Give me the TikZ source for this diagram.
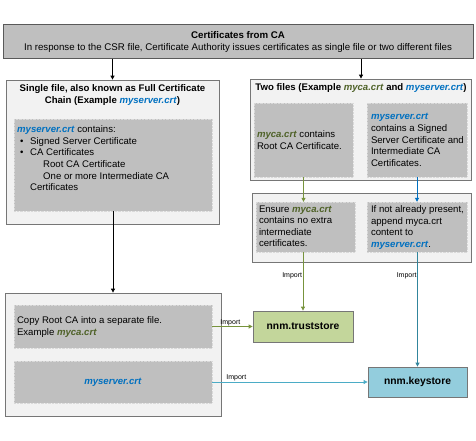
\documentclass[tikz,border=0pt]{standalone}
\usepackage{fontspec}
\setmainfont{Liberation Sans}
\usetikzlibrary{arrows.meta,calc}
\definecolor{boxgray}{HTML}{BFBFBF}
\definecolor{panel}{HTML}{F2F2F2}
\definecolor{edge}{HTML}{767676}
\definecolor{dedge}{HTML}{595959}
\definecolor{dgreen}{HTML}{4F6228}
\definecolor{lgreen}{HTML}{77933C}
\definecolor{fblue}{HTML}{0070C0}
\definecolor{kteal}{HTML}{31859C}
\definecolor{hteal}{HTML}{4BACC6}
\definecolor{tsfill}{HTML}{C3D69B}
\definecolor{ksfill}{HTML}{93CDDD}
\newcommand\gcrt[1]{\textcolor{dgreen}{\textbf{\textit{#1}}}}
\newcommand\bcrt[1]{\textcolor{fblue}{\textbf{\textit{#1}}}}
\begin{document}
\begin{tikzpicture}[x=1pt,y=-1pt,
  sz/.style 2 args={minimum width=#1pt,minimum height=#2pt},
  panelbox/.style={draw=edge,fill=panel,line width=0.8pt,inner sep=0pt},
  innerbox/.style={draw=white!85!black,densely dotted,fill=boxgray,line width=0.4pt,inner sep=0pt},
  storebox/.style={draw=edge,line width=0.8pt,inner sep=0pt,font=\fontsize{10.3}{12}\selectfont\bfseries},
  body/.style={font=\fontsize{9.6}{11.6}\selectfont,align=left,inner sep=0pt},
  ttl/.style={font=\fontsize{9.6}{12}\selectfont\bfseries,align=center,inner sep=0pt},
  imp/.style={font=\fontsize{7}{8}\selectfont,inner sep=0.5pt},
  tip/.style={-{Triangle[length=4pt,width=4pt]}},
  blk/.style={tip,draw=black,line width=0.8pt}]
\useasboundingbox (0,0) rectangle (476,440);
% top
\node[panelbox,fill=boxgray,draw=dedge,sz={470}{34},font=\fontsize{9.7}{12}\selectfont,align=center] (top) at (238,41.5)
  {{\bfseries Certificates from CA}\\In response to the CSR file, Certificate Authority issues certificates as single file or two different files};
% left column
\node[panelbox,sz={213}{144}] (lt) at (112.5,152) {};
\node[ttl] (lttl) at (112.5,95.5) {Single file, also known as Full Certificate\\Chain (Example \bcrt{myserver.crt})};
\node[innerbox,sz={198}{92}] (lin) at (113,165) {};
\node[body,anchor=north west] (lintxt) at (17,125.5) {\bcrt{myserver.crt} contains:\\
  \makebox[13pt][l]{\hspace{3pt}\textbullet}Signed Server Certificate\\
  \makebox[13pt][l]{\hspace{3pt}\textbullet}CA Certificates\\
  \hspace*{26pt}Root CA Certificate\\
  \hspace*{26pt}One or more Intermediate CA\\
  \hspace*{13pt}Certificates};
\node[panelbox,sz={216}{123}] (bot) at (113,354.5) {};
\node[innerbox,sz={198}{43}] (cp) at (113,326.5) {};
\node[body,anchor=west] (cptxt) at ($(cp.west)+(3,0.5)$) {Copy Root CA into a separate file.\\Example \gcrt{myca.crt}};
\node[innerbox,sz={198}{42},font=\fontsize{9.6}{11}\selectfont] (ms) at (113,382) {\bcrt{myserver.crt}};
% right column
\node[panelbox,sz={221}{101}] (rt) at (360.5,129.5) {};
\node[ttl] (rttl) at (361,88) {Two files (Example \gcrt{myca.crt} and \bcrt{myserver.crt})};
\node[innerbox,sz={99}{74}] (rtl) at (303.5,140) {};
\node[body,anchor=west] (rtltxt) at ($(rtl.west)+(3,0)$) {\gcrt{myca.crt} contains\\Root CA Certificate.};
\node[innerbox,sz={100}{74}] (rtr) at (417,140) {};
\node[body,anchor=west] (rtrtxt) at ($(rtr.west)+(4,0)$) {\bcrt{myserver.crt}\\contains a Signed\\Server Certificate and\\Intermediate CA\\Certificates.};
\node[panelbox,sz={219}{69}] (rm) at (361.5,227.5) {};
\node[innerbox,sz={99}{50}] (rml) at (305.5,227) {};
\node[body,anchor=north west] (rmltxt) at ($(rml.north west)+(3,3.5)$) {Ensure \gcrt{myca.crt}\\contains no extra\\intermediate\\certificates.};
\node[innerbox,sz={100}{50}] (rmr) at (417,227) {};
\node[body,anchor=north west] (rmrtxt) at ($(rmr.north west)+(4,3.5)$) {If not already present,\\append myca.crt\\content to\\\bcrt{myserver.crt}.};
% stores
\node[storebox,fill=tsfill,sz={100}{31}] (ts) at (303,326.5) {nnm.truststore};
\node[storebox,fill=ksfill,sz={99}{30}] (ks) at (417.5,382) {nnm.keystore};
% connectors
\draw[blk] (top.south -| lt.north) -- (lt.north);
\draw[blk] (top.south -| rttl) -- (rttl |- rt.north);
\draw[blk] (lin.south) -- (bot.north);
\draw[tip,draw=lgreen,fill=lgreen,line width=0.8pt] (rtl.south) -- (rtl.south |- rml.north);
\draw[tip,draw=fblue,fill=fblue,line width=0.8pt] (rtr.south) -- (rtr.south |- rmr.north);
\draw[tip,draw=lgreen,fill=lgreen,line width=0.8pt] (ts.north |- rml.south) -- node[imp,pos=0.4,anchor=east] {Import} (ts.north);
\draw[tip,draw=kteal,fill=kteal,line width=0.8pt] (ks.north |- rmr.south) -- node[imp,pos=0.208,anchor=east] {Import} (ks.north);
\draw[tip,draw=lgreen,fill=lgreen,line width=0.8pt] (cp.east) -- node[imp,pos=0.45,anchor=south] {Import} (ts.west);
\draw[tip,draw=hteal,fill=kteal,line width=0.8pt] (ms.east) -- node[imp,pos=0.155,anchor=south] {Import} (ks.west);
\end{tikzpicture}
\end{document}
